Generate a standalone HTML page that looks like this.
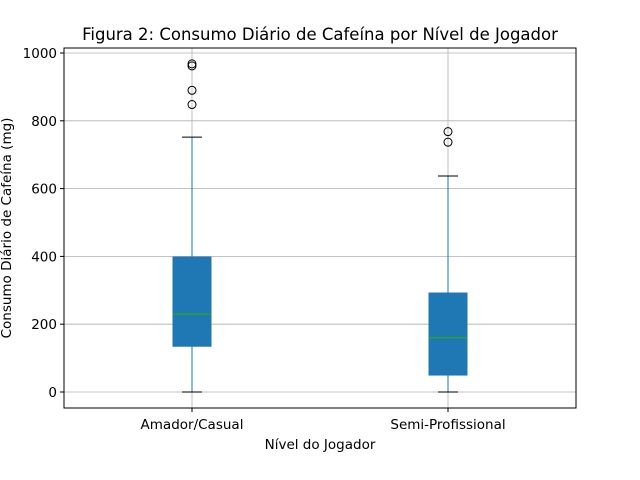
<!DOCTYPE html>
<html><head><meta charset="utf-8"><style>
body{margin:0;background:#fff;}
svg{display:block;font-family:"DejaVu Sans","Liberation Sans",sans-serif;}
</style></head><body>
<svg id="chart" width="640" height="480">
<rect x="0" y="0" width="640" height="480" fill="#fff"/>
<text x="320" y="40" text-anchor="middle" font-size="16.5">Figura 2: Consumo Diário de Cafeína por Nível de Jogador</text>
<g id="grid"></g><g id="marks"></g><g id="axes"></g>
<text x="320" y="449" text-anchor="middle" font-size="13.5">Nível do Jogador</text>
<text transform="translate(11,228) rotate(-90)" text-anchor="middle" font-size="13.5">Consumo Diário de Cafeína (mg)</text>
</svg>
<script>
const categories=["Amador/Casual","Semi-Profissional"];
const q1=[135,50];
const medians=[230,160];
const q3=[398,292];
const whiskLow=[0,0];
const whiskHigh=[752,637];
const outliers=[[848,890,962,968],[737,768]];
const yTicks=[0,200,400,600,800,1000];
const L=64,R=576,T=48,B=408;
const y=v=>392-v*0.339;
const xc=i=>192+i*256;
const NS="http://www.w3.org/2000/svg";
function mk(tag,attrs,parent){const e=document.createElementNS(NS,tag);for(const k in attrs)e.setAttribute(k,attrs[k]);document.getElementById(parent).appendChild(e);return e;}
yTicks.forEach(t=>{
 const g=mk('line',{x1:L,x2:R,y1:y(t),y2:y(t),stroke:'#b0b0b0','stroke-width':0.8},'grid');
 
 
 mk('line',{x1:L-4,x2:L,y1:y(t),y2:y(t),stroke:'#000'},'axes');
 const tx=mk('text',{x:L-7,y:y(t)+5,'text-anchor':'end','font-size':13.5},'axes');tx.textContent=t;
 
 
});
categories.forEach((c,i)=>{
 const x=xc(i);
 const gl=mk('line',{x1:x,x2:x,y1:T,y2:B,stroke:'#b0b0b0','stroke-width':0.8},'grid');
 
 
 mk('line',{x1:x,x2:x,y1:y(whiskLow[i]),y2:y(q1[i]),stroke:'#1f77b4'},'marks');
 mk('line',{x1:x,x2:x,y1:y(q3[i]),y2:y(whiskHigh[i]),stroke:'#1f77b4'},'marks');
 mk('line',{x1:x-10,x2:x+10,y1:y(whiskLow[i]),y2:y(whiskLow[i]),stroke:'#000'},'marks');
 mk('line',{x1:x-10,x2:x+10,y1:y(whiskHigh[i]),y2:y(whiskHigh[i]),stroke:'#000'},'marks');
 const b=mk('rect',{x:x-19,y:y(q3[i]),width:38,height:y(q1[i])-y(q3[i]),fill:'#1f77b4',stroke:'#1f77b4'},'marks');
 
 
 const m=mk('line',{x1:x-19,x2:x+19,y1:y(medians[i]),y2:y(medians[i]),stroke:'#2ca02c','stroke-width':1.5},'marks');
 
 
 outliers[i].forEach(v=>{
  const o=mk('circle',{cx:x,cy:y(v),r:4,fill:'none',stroke:'#000'},'marks');
  
  
 });
 mk('line',{x1:x,x2:x,y1:B,y2:B+4,stroke:'#000'},'axes');
 const tx=mk('text',{x:x,y:B+21,'text-anchor':'middle','font-size':13.5},'axes');tx.textContent=c;
 
 
});
const fr=mk('rect',{x:L,y:T,width:R-L,height:B-T,fill:'none',stroke:'#000','stroke-width':1},'axes');


</script>
</body></html>
